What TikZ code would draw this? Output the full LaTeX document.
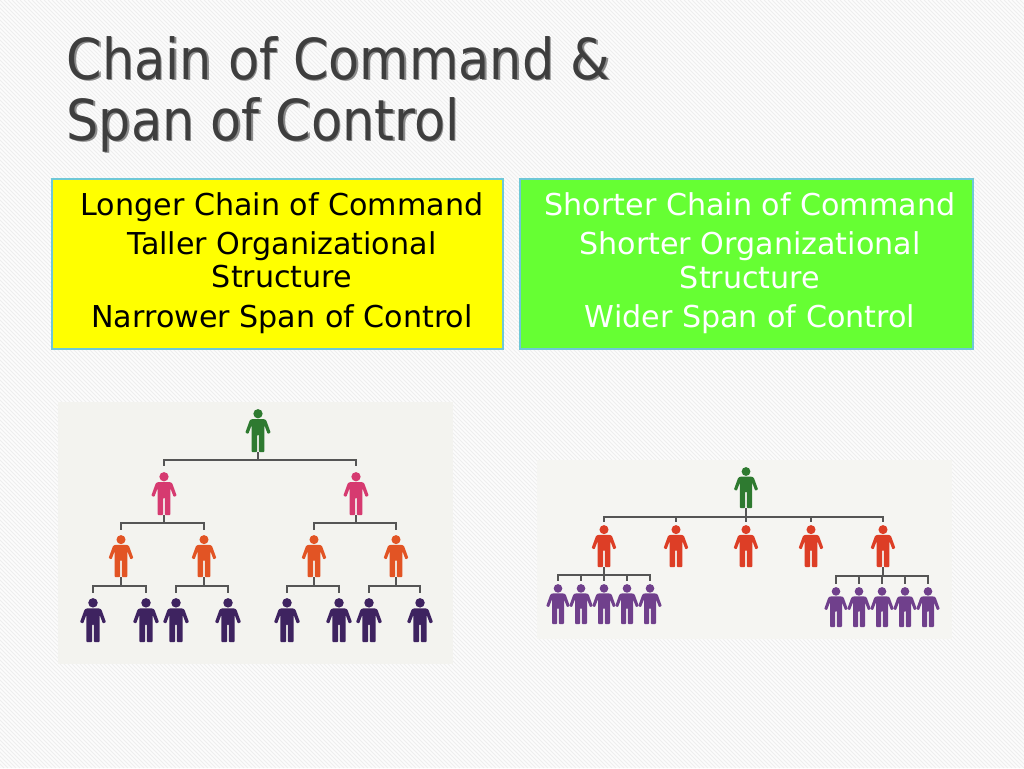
\documentclass[tikz,border=0pt]{standalone}
\usepackage{fontspec}
\setmainfont{DejaVu Sans}
\newfontfamily\titlefont{DejaVu Sans Condensed}
\usetikzlibrary{calc}
\definecolor{bgc}{RGB}{252,252,252}
\definecolor{stripec}{RGB}{238,238,238}
\definecolor{titlec}{RGB}{62,62,62}
\definecolor{shadowc}{RGB}{140,140,140}
\definecolor{boxyellow}{RGB}{255,255,0}
\definecolor{boxgreen}{RGB}{102,255,51}
\definecolor{boxedge}{RGB}{110,200,215}
\definecolor{paperL}{RGB}{243,243,239}
\definecolor{paperR}{RGB}{245,245,242}
\definecolor{linec}{RGB}{85,85,85}
\definecolor{figgreen}{RGB}{46,122,48}
\definecolor{figpink}{RGB}{214,58,112}
\definecolor{figorange}{RGB}{226,84,36}
\definecolor{figpurple}{RGB}{62,35,96}
\definecolor{figred}{RGB}{221,62,38}
\definecolor{figviolet}{RGB}{112,64,140}
\tikzset{
  pnode/.style={inner sep=0pt, outer sep=0pt},
  conn/.style={draw=linec, line width=1.1pt},
  boxstyle/.style={line width=0.8pt, draw=boxedge},
  boxtext/.style={font=\fontsize{22.6pt}{26pt}\selectfont, anchor=base},
  titletext/.style={font=\titlefont\fontsize{42.4pt}{46pt}\selectfont, anchor=base west},
}
\newcommand\person[5]{%
  \node[pnode, minimum width={0.6*#4*0.75pt}, minimum height={#4*0.75pt}] (#1) at (#2,{#3+#4/2}) {};
  \begin{scope}[shift={(#2,#3)}, scale=#4]
    \fill[#5] (0,0.11) circle (0.108);
    \fill[#5, rounded corners=0.6pt] (-0.14,0.235) -- (0.14,0.235) -- (0.19,0.26) -- (0.295,0.55) -- (0.225,0.58) -- (0.15,0.38) -- (0.15,1.0) -- (0.02,1.0) -- (0.02,0.6) -- (-0.02,0.6) -- (-0.02,1.0) -- (-0.15,1.0) -- (-0.15,0.38) -- (-0.225,0.58) -- (-0.295,0.55) -- (-0.19,0.26) -- cycle;
  \end{scope}}
\begin{document}
\begin{tikzpicture}[x=0.75pt, y=-0.75pt]
\useasboundingbox (0,0) rectangle (1024,768);
% background
\fill[bgc] (0,0) rectangle (1024,768);
\begin{scope}
  \clip (0,0) rectangle (1024,768);
  \foreach \i in {-772,-768,...,1024} \draw[stripec, line width=0.6pt] (\i,0) -- ++(768,768);
\end{scope}
% title
\node[titletext, text=shadowc] (t1s) at (63.5,80.5) {Chain of Command \&};
\node[titletext, text=shadowc] (t2s) at (63.5,141.5) {Span of Control};
\node[titletext, text=titlec] (t1) at (62,79) {Chain of Command \&};
\node[titletext, text=titlec] (t2) at (62,140) {Span of Control};
% boxes
\draw[boxstyle, fill=boxyellow] (52,179) rectangle (503,349);
\draw[boxstyle, fill=boxgreen] (520,179) rectangle (973,349);
\node[boxtext] (l1) at (282,215) {Longer Chain of Command};
\node[boxtext] (l2) at (282,254) {Taller Organizational};
\node[boxtext] (l3) at (282,287) {Structure};
\node[boxtext] (l4) at (282,327) {Narrower Span of Control};
\node[boxtext, text=white] (r1) at (750,215) {Shorter Chain of Command};
\node[boxtext, text=white] (r2) at (750,254) {Shorter Organizational};
\node[boxtext, text=white] (r3) at (750,288) {Structure};
\node[boxtext, text=white] (r4) at (750,327) {Wider Span of Control};
% photo backgrounds
\fill[paperL] (58,402) rectangle (453,664);
\fill[paperR] (537,460) rectangle (952,639);
% left tree
\person{g}{258}{409}{43}{figgreen}
\person{p1}{164}{472}{43}{figpink}
\person{p2}{356}{472}{43}{figpink}
\person{o1}{121}{535}{42}{figorange}
\person{o2}{204}{535}{42}{figorange}
\person{o3}{314}{535}{42}{figorange}
\person{o4}{396}{535}{42}{figorange}
\person{u1}{93}{598}{44}{figpurple}
\person{u2}{146}{598}{44}{figpurple}
\person{u3}{176}{598}{44}{figpurple}
\person{u4}{228}{598}{44}{figpurple}
\person{u5}{287}{598}{44}{figpurple}
\person{u6}{339}{598}{44}{figpurple}
\person{u7}{369}{598}{44}{figpurple}
\person{u8}{420}{598}{44}{figpurple}
\foreach \c in {p1,p2} \draw[conn] (g.south) -- ++(0,8) -| ($(\c.north)+(0,-6)$);
\foreach \c in {o1,o2} \draw[conn] (p1.south) -- ++(0,8) -| ($(\c.north)+(0,-5)$);
\foreach \c in {o3,o4} \draw[conn] (p2.south) -- ++(0,8) -| ($(\c.north)+(0,-5)$);
\foreach \c in {u1,u2} \draw[conn] (o1.south) -- ++(0,9) -| ($(\c.north)+(0,-5)$);
\foreach \c in {u3,u4} \draw[conn] (o2.south) -- ++(0,9) -| ($(\c.north)+(0,-5)$);
\foreach \c in {u5,u6} \draw[conn] (o3.south) -- ++(0,9) -| ($(\c.north)+(0,-5)$);
\foreach \c in {u7,u8} \draw[conn] (o4.south) -- ++(0,9) -| ($(\c.north)+(0,-5)$);
% right tree
\person{G}{746}{467}{41}{figgreen}
\person{R1}{604}{525}{42}{figred}
\person{R2}{676}{525}{42}{figred}
\person{R3}{746}{525}{42}{figred}
\person{R4}{811}{525}{42}{figred}
\person{R5}{883}{525}{42}{figred}
\person{V1}{558}{584}{40}{figviolet}
\person{V2}{581}{584}{40}{figviolet}
\person{V3}{604}{584}{40}{figviolet}
\person{V4}{627}{584}{40}{figviolet}
\person{V5}{650}{584}{40}{figviolet}
\person{W1}{836}{587}{40}{figviolet}
\person{W2}{859}{587}{40}{figviolet}
\person{W3}{882}{587}{40}{figviolet}
\person{W4}{905}{587}{40}{figviolet}
\person{W5}{928}{587}{40}{figviolet}
\foreach \c in {R1,R2,R3,R4,R5} \draw[conn] (G.south) -- ++(0,9) -| ($(\c.north)+(0,-3)$);
\foreach \c in {V1,V2,V3,V4,V5} \draw[conn] (R1.south) -- ++(0,8) -| ($(\c.north)+(0,-3)$);
\foreach \c in {W1,W2,W3,W4,W5} \draw[conn] (R5.south) -- ++(0,9) -| ($(\c.north)+(0,-3)$);
\end{tikzpicture}
\end{document}
